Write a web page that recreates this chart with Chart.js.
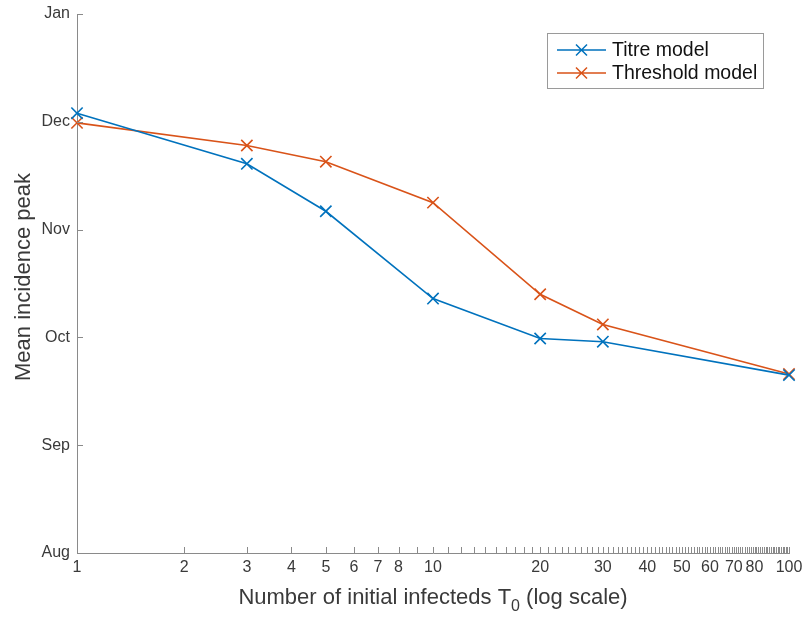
<!DOCTYPE html>
<html>
<head>
<meta charset="utf-8">
<script src="https://cdn.jsdelivr.net/npm/chart.js@4"></script>
<style>
  body { margin: 0; background: #fff; }
  #wrap { width: 806px; height: 619px; position: relative; }
</style>
</head>
<body>
<div id="wrap"><canvas id="graphiquePic"></canvas></div>
<script>
// donnees (mois : Aug=0 ... Jan=5)
const nbInfectes = [1, 3, 5, 10, 20, 30, 100];
const titreModel = [4.08, 3.61, 3.17, 2.36, 1.99, 1.96, 1.65];
const thresholdModel = [3.99, 3.78, 3.63, 3.25, 2.40, 2.12, 1.66];
const moisLabels = ["Aug", "Sep", "Oct", "Nov", "Dec", "Jan"];
const xLabelsAffiches = [1, 2, 3, 4, 5, 6, 7, 8, 10, 20, 30, 40, 50, 60, 70, 80, 100];
const xTicks = [];
for (let i = 1; i <= 100; i++) xTicks.push(i);

const BLEU = "#0072BD";
const ORANGE = "#D95319";
const GRIS_AXE = "#8a8a8a";
const TEXTE = "#3a3a3a";
const POLICE = "'Liberation Sans', Arial, Helvetica, sans-serif";

function points(valeurs) {
    return nbInfectes.map((x, i) => ({ x: x, y: valeurs[i] }));
}

// petits traits vers l'interieur, comme dans matlab
const ticksInterieurs = {
    id: "ticksInterieurs",
    afterDraw(chart) {
        const ctx = chart.ctx;
        const sx = chart.scales.x;
        const sy = chart.scales.y;
        ctx.save();
        ctx.strokeStyle = GRIS_AXE;
        ctx.lineWidth = 1;
        ctx.beginPath();
        sx.ticks.forEach(t => {
            const px = Math.round(sx.getPixelForValue(t.value)) + 0.5;
            ctx.moveTo(px, sx.top);
            ctx.lineTo(px, sx.top - 6);
        });
        sy.ticks.forEach(t => {
            const py = Math.round(sy.getPixelForValue(t.value)) + 0.5;
            ctx.moveTo(sy.right, py);
            ctx.lineTo(sy.right + 6, py);
        });
        ctx.stroke();
        ctx.restore();
    }
};

const titresEtLegende = {
    id: "titresEtLegende",
    afterDraw(chart) {
        const ctx = chart.ctx;
        const area = chart.chartArea;
        ctx.save();
        ctx.fillStyle = TEXTE;

        // titre axe y
        ctx.font = "22px " + POLICE;
        ctx.textAlign = "center";
        ctx.textBaseline = "middle";
        ctx.translate(24, 277);
        ctx.rotate(-Math.PI / 2);
        ctx.fillText("Mean incidence peak", 0, 0);
        ctx.setTransform(1, 0, 0, 1, 0, 0);

        // titre axe x avec indice
        const a = "Number of initial infecteds T";
        const b = "0";
        const c = " (log scale)";
        ctx.font = "22px " + POLICE;
        const wa = ctx.measureText(a).width;
        const wc = ctx.measureText(c).width;
        ctx.font = "16px " + POLICE;
        const wb = ctx.measureText(b).width;
        const total = wa + wb + wc;
        let x0 = (area.left + area.right) / 2 - total / 2;
        const yb = 604;
        ctx.textAlign = "left";
        ctx.textBaseline = "alphabetic";
        ctx.font = "22px " + POLICE;
        ctx.fillText(a, x0, yb);
        ctx.font = "16px " + POLICE;
        ctx.fillText(b, x0 + wa, yb + 7);
        ctx.font = "22px " + POLICE;
        ctx.fillText(c, x0 + wa + wb, yb);

        // legende
        const lx = 547.5, ly = 33.5, lw = 216, lh = 55;
        ctx.fillStyle = "#fff";
        ctx.fillRect(lx, ly, lw, lh);
        ctx.strokeStyle = "#9a9a9a";
        ctx.lineWidth = 1;
        ctx.strokeRect(lx, ly, lw, lh);
        const entrees = [
            { label: "Titre model", couleur: BLEU, y: 50 },
            { label: "Threshold model", couleur: ORANGE, y: 73 }
        ];
        entrees.forEach(e => {
            ctx.strokeStyle = e.couleur;
            ctx.lineWidth = 1.5;
            ctx.beginPath();
            ctx.moveTo(557, e.y);
            ctx.lineTo(606, e.y);
            const d = 5.5;
            ctx.moveTo(581.5 - d, e.y - d);
            ctx.lineTo(581.5 + d, e.y + d);
            ctx.moveTo(581.5 - d, e.y + d);
            ctx.lineTo(581.5 + d, e.y - d);
            ctx.stroke();
            ctx.fillStyle = "#111";
            ctx.font = "19.5px " + POLICE;
            ctx.textBaseline = "middle";
            ctx.fillText(e.label, 612, e.y + 1);
        });
        ctx.restore();
    }
};

const ctx = document.getElementById("graphiquePic");
new Chart(ctx, {
    type: "line",
    data: {
        datasets: [{
            label: "Titre model",
            data: points(titreModel),
            borderColor: BLEU,
            backgroundColor: BLEU,
            borderWidth: 1.6,
            pointStyle: "crossRot",
            pointRadius: 8,
            pointBorderWidth: 1.6,
            clip: false,
            tension: 0
        }, {
            label: "Threshold model",
            data: points(thresholdModel),
            borderColor: ORANGE,
            backgroundColor: ORANGE,
            borderWidth: 1.6,
            pointStyle: "crossRot",
            pointRadius: 8,
            pointBorderWidth: 1.6,
            clip: false,
            tension: 0
        }]
    },
    options: {
        responsive: true,
        maintainAspectRatio: false,
        animation: false,
        events: [],
        layout: {
            padding: { top: 14, right: 17, left: 0, bottom: 0 }
        },
        plugins: {
            legend: { display: false },
            tooltip: { enabled: false }
        },
        scales: {
            x: {
                type: "logarithmic",
                min: 1,
                max: 100,
                afterBuildTicks: scale => {
                    scale.ticks = xTicks.map(v => ({ value: v }));
                },
                afterFit: scale => {
                    scale.height = 66;
                    scale.paddingLeft = 0;
                    scale.paddingRight = 0;
                },
                grid: { display: false, drawTicks: false },
                border: { display: true, color: GRIS_AXE, width: 1 },
                ticks: {
                    autoSkip: false,
                    maxRotation: 0,
                    minRotation: 0,
                    padding: 5,
                    color: TEXTE,
                    font: { size: 16, family: POLICE },
                    callback: v => xLabelsAffiches.includes(v) ? String(v) : ""
                }
            },
            y: {
                min: 0,
                max: 5,
                afterFit: scale => {
                    scale.width = 77;
                    scale.paddingTop = 0;
                    scale.paddingBottom = 0;
                },
                grid: { display: false, drawTicks: false },
                border: { display: true, color: GRIS_AXE, width: 1 },
                ticks: {
                    stepSize: 1,
                    padding: 7,
                    color: TEXTE,
                    font: { size: 16, family: POLICE },
                    callback: v => moisLabels[v]
                }
            }
        }
    },
    plugins: [ticksInterieurs, titresEtLegende]
});
</script>
</body>
</html>
